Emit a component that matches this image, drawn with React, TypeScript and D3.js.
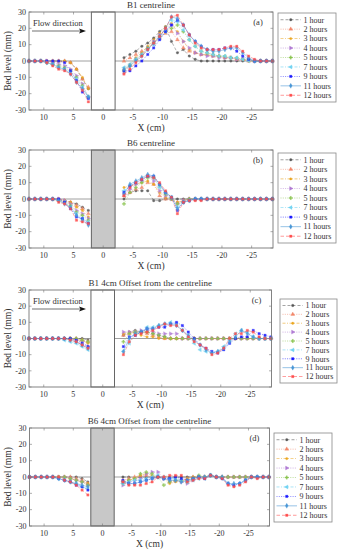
import React from "react";
import * as d3 from "d3";

// time steps shown in every legend
const hourLabels = ["1 hour", "2 hours", "3 hours", "4 hours", "5 hours", "7 hours", "9 hours", "11 hours", "12 hours"];

// measurement positions (cm), upstream and downstream of the block
const xLeft = [12.5, 11.5, 10.5, 9.5, 8.5, 7.5, 6.5, 5.5, 4.5, 3.5, 2.5];
const xRight = [-3.5, -4.5, -5.5, -6.5, -7.5, -8.5, -9.5, -10.5, -11.5, -12.5, -13.5, -14.5, -15.5, -16.5, -17.5, -18.5, -19.5, -20.5, -21.5, -22.5, -23.5, -24.5, -25.5, -26.5, -27.5, -28.5];

const xTicks = [10, 5, 0, -5, -10, -15, -20, -25];
const yTicks = [-30, -20, -10, 0, 10, 20, 30];

// (a) B1 centreline
const b1CentreLeft = [
  [0, 0, 0, 0, 0, 0, 0, -1, -5, -11, -17],
  [0, 0, 0, 0, 0, 0, 0, -1, -5, -11, -16],
  [0, 0, 0, 0, 0, 0, 0, -1, -5, -10, -17],
  [0, 0, 0, 0, -1, -2, -3, -5, -9, -14, -22],
  [0, 0, 0, -1, -2, -3, -4, -6, -10, -15, -22],
  [0, 0, 0, -1, -2, -4, -5, -7, -11, -16, -22],
  [0, 0, 0, 0, 0, 0, -1, -6, -12, -19, -23],
  [0, 0, 0, -1, -2, -4, -5, -8, -13, -17, -22],
  [0, 0, 0, -1, -3, -5, -6, -8, -13, -18, -25],
];
const b1CentreRight = [
  [2, 4, 6, 9, 11, 14, 18, 21, 12, 5, 7, 3, 1, 0, 0, 0, 0, 0, 0, 0, 0, 0, 0, 0, 0, 0],
  [0, 2, 4, 6, 8, 11, 14, 17, 18, 13, 8, 6, 5, 4, 4, 3, 3, 2, 2, 1, 1, 0, 0, 0, 0, 0],
  [-5, -2, 2, 5, 9, 13, 17, 21, 23, 18, 12, 7, 5, 4, 4, 3, 3, 2, 2, 1, 1, 0, 0, 0, 0, 0],
  [-7, -3, 1, 4, 8, 12, 16, 19, 22, 17, 12, 8, 5, 4, 3, 3, 2, 2, 2, 1, 1, 1, 0, 0, 0, 0],
  [-6, -3, 1, 4, 8, 11, 15, 18, 20, 22, 18, 13, 9, 6, 5, 4, 3, 3, 2, 2, 1, 1, 0, 0, 0, 0],
  [-4, -2, 1, 4, 7, 10, 14, 18, 25, 24, 19, 13, 9, 6, 5, 4, 3, 3, 2, 2, 1, 0, 0, 0, 0, 0],
  [-6, -6, -3, 0, 4, 8, 13, 18, 22, 25, 22, 16, 12, 9, 7, 7, 7, 8, 8, 6, 3, 1, 0, 0, 0, 0],
  [-5, -3, 0, 3, 7, 11, 15, 20, 27, 26, 22, 16, 12, 9, 7, 6, 6, 7, 8, 8, 5, 2, 0, 0, 0, 0],
  [-8, -5, -1, 3, 7, 11, 15, 20, 27, 28, 22, 16, 11, 8, 7, 7, 7, 8, 9, 9, 6, 3, 1, 0, 0, 0],
];

// (b) B6 centreline
const b6CentreLeft = [
  [0, 0, 0, 0, 0, 0, -1, -2, -3, -5, -7],
  [0, 0, 0, 0, 0, 0, -1, -2, -4, -6, -9],
  [0, 0, 0, 0, 0, 0, -1, -2, -5, -7, -11],
  [0, 0, 0, 0, 0, 0, -1, -3, -7, -9, -12],
  [0, 0, 0, 0, 0, -1, -2, -4, -8, -10, -13],
  [0, 0, 0, 0, 0, -1, -2, -5, -9, -12, -14],
  [0, 0, 0, 0, 0, 0, -2, -6, -11, -12, -15],
  [0, 0, 0, 0, 0, -1, -3, -5, -10, -13, -16],
  [0, 0, 0, 0, 0, -2, -3, -6, -13, -14, -15],
];
const b6CentreRight = [
  [0, 4, 5, 5, 5, -1, -1, 0, 0, 0, 0, 0, 0, 0, 0, 0, 0, 0, 0, 0, 0, 0, 0, 0, 0, 0],
  [2, 4, 6, 7, 10, 9, 2, 0, 0, -2, -1, 0, 0, 0, 0, 0, 0, 0, 0, 0, 0, 0, 0, 0, 0, 0],
  [7, 8, 9, 10, 11, 9, 4, 1, 0, -2, -1, 0, 0, 0, 0, 0, 0, 0, 0, 0, 0, 0, 0, 0, 0, 0],
  [3, 6, 9, 11, 14, 11, 5, 2, 0, -3, -1, 0, 0, 0, 0, 0, 0, 0, 0, 0, 0, 0, 0, 0, 0, 0],
  [-3, 4, 7, 10, 13, 13, 8, 3, 0, -3, -2, 0, 0, 0, 0, 0, 0, 0, 0, 0, 0, 0, 0, 0, 0, 0],
  [5, 8, 10, 12, 14, 13, 7, 4, 1, -5, -2, -1, 0, 0, 0, 0, 0, 0, 0, 0, 0, 0, 0, 0, 0, 0],
  [4, 8, 10, 12, 14, 14, 9, 4, 1, -7, -2, -1, 0, 0, 0, 0, 0, 0, 0, 0, 0, 0, 0, 0, 0, 0],
  [3, 9, 11, 13, 15, 14, 9, 4, 1, -6, -2, -1, 0, 0, 0, 0, 0, 0, 0, 0, 0, 0, 0, 0, 0, 0],
  [2, 7, 10, 12, 14, 13, 10, 5, 1, -9, -2, -1, -1, -1, 0, 0, 0, 0, 0, 0, 0, 0, 0, 0, 0, 0],
];

// (c) B1 4cm offset
const b1OffsetLeft = [
  [0, 0, 0, 0, 0, 0, 0, 0, 0, 0, -1],
  [0, 0, 0, 0, 0, 0, 0, 0, 0, -1, -2],
  [0, 0, 0, 0, 0, 0, 0, 0, -1, -1, -3],
  [0, 0, 0, 0, 0, 0, 0, 0, -1, -2, -5],
  [0, 0, 0, 0, 0, 0, 0, 0, 0, -1, -2],
  [0, 0, 0, 0, 0, 0, -1, -2, -3, -5, -7],
  [0, 0, 0, 0, 0, 0, 0, 0, -1, -3, -5],
  [0, 0, 0, 0, 0, 0, 0, -1, -2, -4, -6],
  [0, 0, 0, 0, 0, 0, 0, -1, -2, -4, -6],
];
const b1OffsetRight = [
  [2, 4, 5, 4, 4, 3, 2, 1, 0, 0, 0, 0, 0, 0, 0, 0, 0, 0, 0, 0, 0, 0, 0, 0, 0, 0],
  [2, 3, 4, 4, 3, 2, 1, 0, 0, 0, 0, 0, 0, 0, 0, 0, 0, 0, 0, 0, 0, 0, 0, 0, 0, 0],
  [3, 4, 4, 2, 1, 1, 0, 0, 0, 0, 0, 0, 0, 0, 0, 0, 0, 0, 0, 0, 0, 0, 0, 0, 0, 0],
  [4, 4, 4, 5, 5, 4, 3, 3, 3, 3, 0, 0, 0, 0, 0, 0, 0, 0, 0, 0, 0, 0, 0, 0, 0, 0],
  [-2, 3, 4, 4, 4, 3, 2, 1, 0, 0, 0, 0, 0, 0, 0, 0, 0, 0, 0, 0, 0, 0, 0, 0, 0, 0],
  [-8, -3, 2, 4, 7, 7, 8, 9, 10, 9, 5, 1, -3, -7, -8, -9, -8, -5, -1, 3, 5, 4, 1, 0, 0, 0],
  [-5, 1, 2, 4, 6, 6, 7, 7, 9, 10, 8, 4, 0, -4, -6, -8, -9, -7, -3, 0, 1, 1, 5, 3, 2, 1],
  [-8, 0, 3, 4, 6, 6, 8, 9, 9, 8, 5, 2, -1, -4, -7, -9, -8, -6, -2, 1, 5, 3, 1, 0, 0, 0],
  [-10, -2, 2, 3, 4, 5, 7, 9, 8, 8, 5, 1, -2, -4, -6, -10, -9, -6, 0, 3, 3, 5, 4, 1, 0, 0],
];

// (d) B6 4cm offset
const b6OffsetLeft = [
  [0, 0, 0, 0, 0, 0, 0, 0, 0, -1, -3],
  [0, 0, 0, 0, 0, 0, 0, 0, -1, -2, -4],
  [0, 0, 0, 0, 0, 0, 0, -1, -2, -3, -4],
  [0, 0, 0, 0, 0, 0, 0, -1, -2, -3, -5],
  [0, 0, 0, 0, 0, 0, 0, -1, -2, -3, -5],
  [0, 0, 0, 0, 0, -1, -2, -3, -4, -6, -7],
  [0, 0, 0, 0, 0, -1, -2, -3, -5, -6, -8],
  [0, 0, 0, 0, 0, -1, -2, -3, -4, -5, -6],
  [0, 0, 0, 0, 0, 0, -2, -3, -5, -8, -11],
];
const b6OffsetRight = [
  [0, 0, -1, 0, 0, 0, 0, 0, 0, 0, 0, 0, 0, 0, 0, 1, 0, 0, 0, 0, 0, 0, 0, 0, 0, 0],
  [-2, -1, 0, 1, 1, 0, 0, 0, -3, -2, -2, -1, 0, 0, 0, 1, 0, 0, 0, 0, 0, 0, 0, 0, 0, 0],
  [-3, -2, -1, 1, 2, 1, 0, -1, -4, -3, -3, -1, 0, 0, 0, 1, 0, 0, 0, 0, 0, 0, 0, 0, 0, 0],
  [-5, -3, -2, -1, 2, 3, 3, -1, -2, -2, -3, -4, -2, 0, 0, 1, 0, 0, 0, 0, 0, 0, 0, 0, 0, 0],
  [-4, -2, -1, 2, 3, 2, 0, -5, -3, -2, -2, -3, -1, 1, 0, 1, 0, 0, 0, 0, 0, 0, 0, 0, 0, 0],
  [-4, -3, -2, -2, -1, 0, 1, 0, -1, -1, -2, -3, -2, -1, -1, 1, 0, -1, -4, -5, -4, -2, 0, 0, 0, 0],
  [-2, -4, -4, -3, -2, -1, 0, -1, -1, 0, -1, -2, -1, 0, -1, 1, 0, -1, -4, -5, -4, -2, 0, 0, 0, 0],
  [-3, -4, -4, -3, -2, -1, 0, -1, -2, -2, -3, -2, -1, 0, 0, 1, 0, 0, -4, -4, -4, -2, 0, 0, 0, 0],
  [-3, -5, -5, -5, -4, -3, 0, 0, 1, 1, 1, -3, -2, -1, -1, 1, 0, -1, -5, -6, -5, -3, 0, -1, 0, 0],
];

const colors = ["#555555", "#f2876a", "#eba51e", "#b07ad4", "#8cc651", "#6fd3f2", "#1515ff", "#4896d6", "#ff4b4b"];
const dashes = ["3,2", "1,1.3", "3,1.5,1,1.5", "1,1.3", "1,1.3", "3,1.5,1,1.5", "1,1.3", "none", "3.5,2"];
const markers = ["circle", "triUp", "dot", "triRight", "star", "triLeft", "square", "diamond", "square"];

const FONT = "'Liberation Serif', 'Times New Roman', serif";

function markerPath(kind: string) {
  const sym = d3.symbol();
  if (kind === "circle") return sym.type(d3.symbolCircle).size(5)();
  if (kind === "dot") return sym.type(d3.symbolCircle).size(4.5)();
  if (kind === "star") return sym.type(d3.symbolCross).size(6)();
  if (kind === "square") return sym.type(d3.symbolSquare).size(5.5)();
  if (kind === "diamond") return sym.type(d3.symbolDiamond).size(7)();
  return sym.type(d3.symbolTriangle).size(7)();
}

function markerRotate(kind: string) {
  if (kind === "triRight") return 90;
  if (kind === "triLeft") return -90;
  return 0;
}

const panels = [
  { title: "B1 centreline", tag: "(a)", left: 29, right: 273, top: 12, bottom: 110, lx: 278, ly: 13, lw: 58, lh: 89, shaded: false, flow: true, dl: b1CentreLeft, dr: b1CentreRight },
  { title: "B6 centreline", tag: "(b)", left: 29, right: 273, top: 150, bottom: 248, lx: 278, ly: 153, lw: 58, lh: 90, shaded: true, flow: false, dl: b6CentreLeft, dr: b6CentreRight },
  { title: "B1 4cm Offset from the centreline", tag: "(c)", left: 29, right: 271.5, top: 290, bottom: 387, lx: 280, ly: 299, lw: 57, lh: 84, shaded: false, flow: true, dl: b1OffsetLeft, dr: b1OffsetRight },
  { title: "B6 4cm Offset from the centreline", tag: "(d)", left: 29.5, right: 269.5, top: 428, bottom: 526, lx: 274, ly: 433, lw: 58, lh: 89, shaded: true, flow: false, dl: b6OffsetLeft, dr: b6OffsetRight },
];

function Panel({ p }: { p: any }) {
  const x = d3.scaleLinear().domain([12.5, -28.6]).range([p.left, p.right]);
  const y = d3.scaleLinear().domain([-30, 30]).range([p.bottom, p.top]);
  const line = d3.line<[number, number]>().x((d) => x(d[0])).y((d) => y(d[1]));
  const midX = (p.left + p.right) / 2;
  const midY = (p.top + p.bottom) / 2;
  const rowH = (p.lh - 4) / hourLabels.length;

  return (
    <g>
      <text x={midX} y={p.top - 4} textAnchor="middle" fontSize={9} fontFamily={FONT} fill="#333">{p.title}</text>
      <rect x={p.left} y={p.top} width={p.right - p.left} height={p.bottom - p.top} fill="#fff" />
      {/* zero line */}
      <line x1={p.left} x2={p.right} y1={y(0)} y2={y(0)} stroke="#a0a0a0" strokeWidth={1} />
      {/* block */}
      <rect x={x(2)} y={p.top} width={x(-2) - x(2)} height={p.bottom - p.top}
        fill={p.shaded ? "#c8c8c8" : "#fff"} stroke="#555" strokeWidth={0.9} />

      {hourLabels.map((h, i) => {
        const ptsL = xLeft.map((xv, j) => [xv, p.dl[i][j]] as [number, number]);
        const ptsR = xRight.map((xv, j) => [xv, p.dr[i][j]] as [number, number]);
        const pts = ptsL.concat(ptsR);
        return (
          <g key={h}>
            {[ptsL, ptsR].map((seg, k) => (
              <path key={k} d={line(seg) || ""} fill="none" stroke={colors[i]} strokeWidth={0.6}
                strokeDasharray={dashes[i]} opacity={0.75} />
            ))}
            {pts.map((d, k) => (
              <path key={k} d={markerPath(markers[i]) || ""} fill={colors[i]} stroke={colors[i]} strokeWidth={0.3}
                opacity={0.85}
                transform={`translate(${x(d[0])},${y(d[1])}) rotate(${markerRotate(markers[i])})`} />
            ))}
          </g>
        );
      })}

      {/* axes box and ticks */}
      <rect x={p.left} y={p.top} width={p.right - p.left} height={p.bottom - p.top} fill="none" stroke="#777" strokeWidth={0.9} />
      {xTicks.map((t) => (
        <g key={"x" + t}>
          <line x1={x(t)} x2={x(t)} y1={p.bottom} y2={p.bottom - 2.5} stroke="#777" strokeWidth={0.6} />
          <line x1={x(t)} x2={x(t)} y1={p.top} y2={p.top + 2.5} stroke="#777" strokeWidth={0.6} />
          <text x={x(t)} y={p.bottom + 10} textAnchor="middle" fontSize={8} fontFamily={FONT} fill="#333">{t}</text>
        </g>
      ))}
      {yTicks.map((t) => (
        <g key={"y" + t}>
          <line x1={p.left} x2={p.left + 2.5} y1={y(t)} y2={y(t)} stroke="#777" strokeWidth={0.6} />
          <line x1={p.right} x2={p.right - 2.5} y1={y(t)} y2={y(t)} stroke="#777" strokeWidth={0.6} />
          <text x={p.left - 3} y={y(t) + 2.8} textAnchor="end" fontSize={8} fontFamily={FONT} fill="#333">{t}</text>
        </g>
      ))}
      <text x={midX} y={p.bottom + 20.5} textAnchor="middle" fontSize={9.5} fontFamily={FONT} fill="#333">X (cm)</text>
      <text transform={`translate(${8.5},${midY}) rotate(-90)`} textAnchor="middle" dominantBaseline="middle"
        fontSize={9.5} fontFamily={FONT} fill="#333">Bed level (mm)</text>
      <text x={p.right - 15} y={p.top + 13} textAnchor="middle" fontSize={8.5} fontFamily={FONT} fill="#333">{p.tag}</text>

      {p.flow && (
        <g>
          <text x={p.left + 4} y={p.top + 14} fontSize={8.5} fontFamily={FONT} fill="#333">Flow direction</text>
          <line x1={p.left + 3} x2={p.left + 52} y1={p.top + 19} y2={p.top + 19} stroke="#333" strokeWidth={0.7} />
          <path d={`M${p.left + 57},${p.top + 19} L${p.left + 50},${p.top + 16.5} L${p.left + 51.5},${p.top + 19} L${p.left + 50},${p.top + 21.5} Z`} fill="#111" />
        </g>
      )}

      {/* legend */}
      <rect x={p.lx} y={p.ly} width={p.lw} height={p.lh} fill="#fff" stroke="#888" strokeWidth={0.8} />
      {hourLabels.map((h, i) => {
        const cy = p.ly + 2 + rowH * (i + 0.5);
        return (
          <g key={"l" + h}>
            <line x1={p.lx + 2.5} x2={p.lx + 23} y1={cy} y2={cy} stroke={colors[i]} strokeWidth={0.7}
              strokeDasharray={dashes[i]} opacity={0.8} />
            <path d={markerPath(markers[i]) || ""} fill={colors[i]} stroke={colors[i]} strokeWidth={0.3}
              transform={`translate(${p.lx + 12.75},${cy}) rotate(${markerRotate(markers[i])})`} />
            <text x={p.lx + 25.5} y={cy + 2.8} fontSize={8} fontFamily={FONT} fill="#333">{h}</text>
          </g>
        );
      })}
    </g>
  );
}

export default function App() {
  return (
    <svg width={340} height={550} style={{ position: "absolute", left: 0, top: 0, background: "#fff" }}>
      <rect x={0} y={0} width={340} height={550} fill="#fff" />
      {panels.map((p) => (
        <Panel key={p.tag} p={p} />
      ))}
    </svg>
  );
}
